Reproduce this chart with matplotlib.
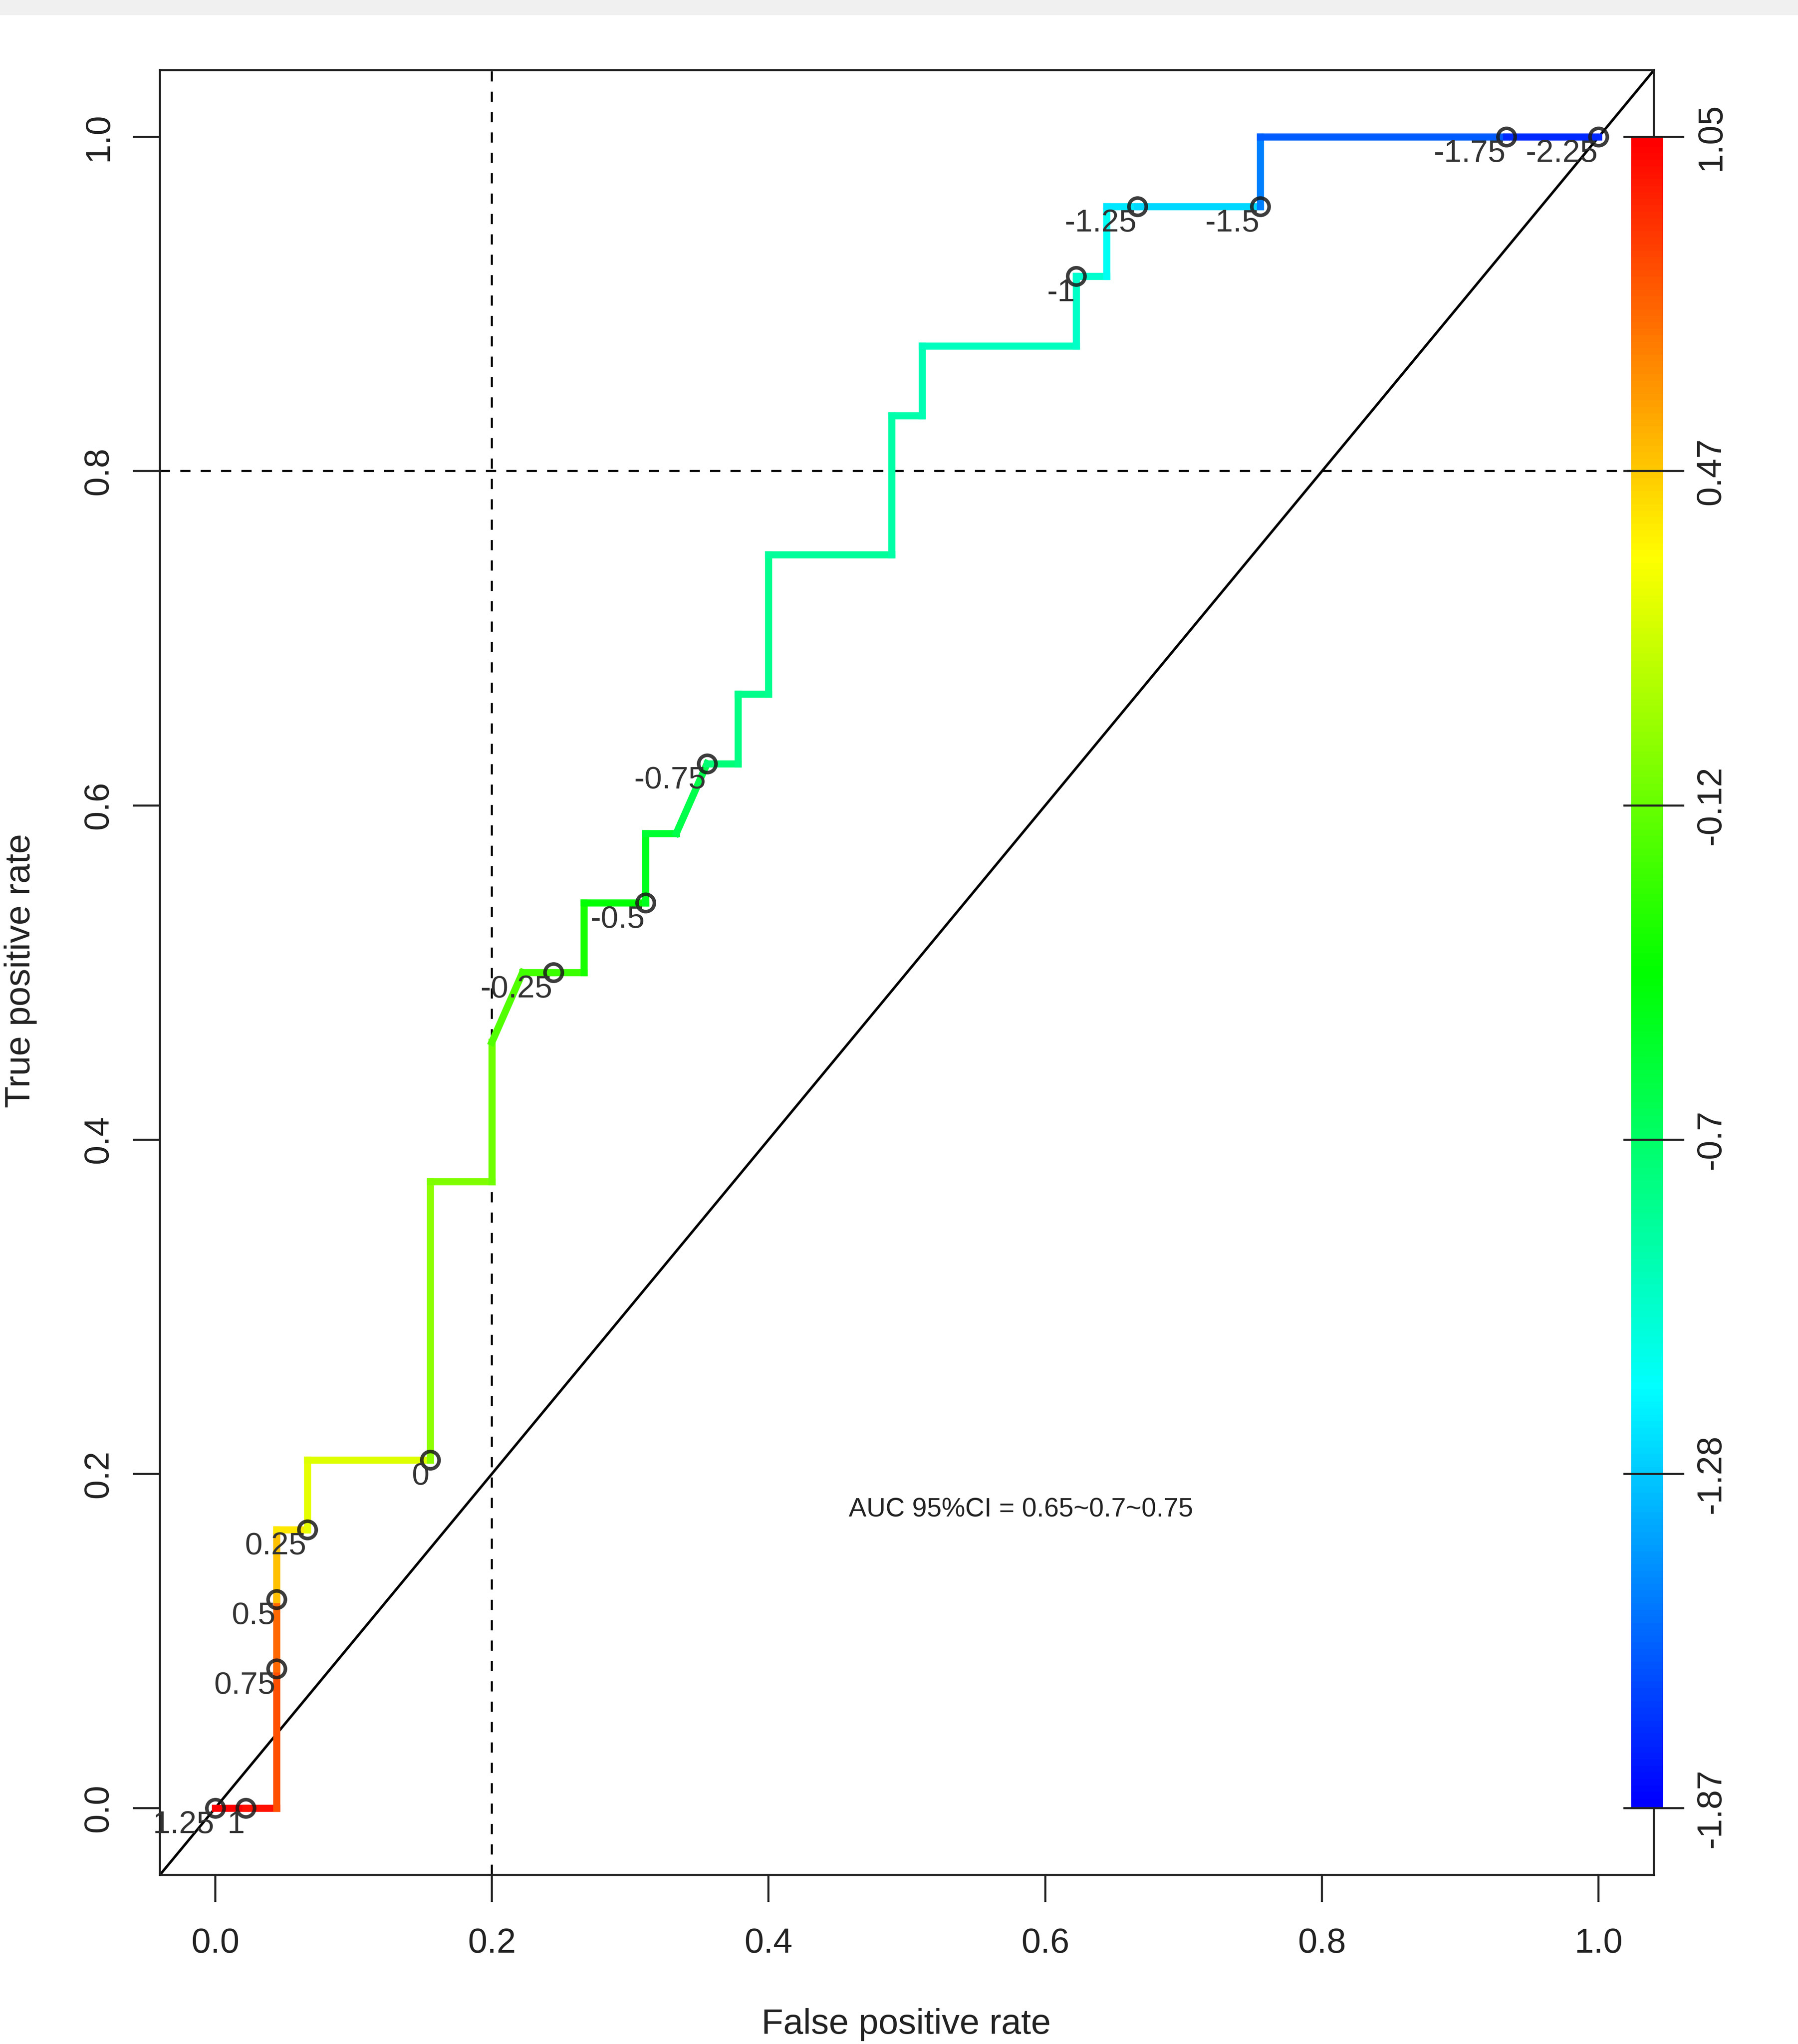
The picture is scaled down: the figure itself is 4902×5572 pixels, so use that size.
import colorsys
import numpy as np
import matplotlib
matplotlib.use("Agg")
import matplotlib.pyplot as plt
from matplotlib.collections import LineCollection
from matplotlib.colors import ListedColormap, Normalize
from matplotlib.patches import Rectangle

plt.rcParams['font.family'] = ['Liberation Sans', 'DejaVu Sans']

# ---------------- data ----------------
N_NEG = 45
N_POS = 24
fp_counts = [0, 1, 2, 2, 2, 2, 3, 3, 7, 7, 9, 9, 10, 11, 12, 12, 14, 14, 15, 16,
             17, 17, 18, 18, 22, 22, 23, 23, 28, 28, 29, 29, 30, 34, 34, 42, 45]
tp_counts = [0, 0, 0, 2, 3, 4, 4, 5, 5, 9, 9, 11, 12, 12, 12, 13, 13, 14, 14, 15,
             15, 16, 16, 18, 18, 20, 20, 21, 21, 22, 22, 23, 23, 23, 24, 24, 24]
cutoffs = [1.05, 1.0, 0.82, 0.75, 0.5, 0.38, 0.25, 0.22, 0.0, -0.05, -0.1, -0.18,
           -0.22, -0.25, -0.35, -0.42, -0.5, -0.55, -0.62, -0.75, -0.78, -0.8,
           -0.82, -0.85, -0.88, -0.9, -0.92, -0.95, -0.98, -1.0, -1.1, -1.2,
           -1.25, -1.5, -1.6, -1.75, -1.87]

label_text = ["1.25", "1", "0.75", "0.5", "0.25", "0", "-0.25", "-0.5", "-0.75",
              "-1", "-1.25", "-1.5", "-1.75", "-2.25"]
label_fp = [0, 1, 2, 2, 3, 7, 11, 14, 16, 28, 30, 34, 42, 45]
label_tp = [0, 0, 2, 3, 4, 5, 12, 13, 15, 22, 23, 23, 24, 24]

axis_ticks = [0.0, 0.2, 0.4, 0.6, 0.8, 1.0]
axis_ticklabels = ["0.0", "0.2", "0.4", "0.6", "0.8", "1.0"]
cbar_ticklabels = ["-1.87", "-1.28", "-0.7", "-0.12", "0.47", "1.05"]
cut_min, cut_max = -1.87, 1.05
auc_text = "AUC 95%CI = 0.65~0.7~0.75"

# ---------------- colours (R rainbow, red=high, blue=low) ----------------
cols = [colorsys.hsv_to_rgb(h, 1, 1) for h in np.linspace(4 / 6, 0, 256)]
cmap = ListedColormap(cols)
norm = Normalize(cut_min, cut_max)

fig = plt.figure(figsize=(49.02, 55.72), dpi=100)
fig.patches.append(Rectangle((0, 1 - 40 / 5572), 1, 40 / 5572, transform=fig.transFigure,
                             color='#f0f0f0', zorder=0))
ax = fig.add_axes([0.0889, 0.0827, 0.8310, 0.8830])
ax.set_xlim(-0.04, 1.04)
ax.set_ylim(-0.04, 1.04)

x = np.array(fp_counts) / N_NEG
y = np.array(tp_counts) / N_POS
segs = [[(x[i], y[i]), (x[i + 1], y[i + 1])] for i in range(len(x) - 1)]
seg_cols = [cmap(norm(c)) for c in cutoffs[:-1]]
lc = LineCollection(segs, colors=seg_cols, linewidths=14, capstyle='projecting',
                    joinstyle='miter', zorder=3)
ax.add_collection(lc)

# diagonal and reference lines
ax.plot([-0.04, 1.04], [-0.04, 1.04], color='black', lw=5, zorder=2)
ax.axvline(0.2, color='black', lw=4, linestyle=(0, (5, 5)), zorder=2)
ax.axhline(0.8, color='black', lw=4, linestyle=(0, (5, 5)), zorder=2)

# cutoff points & labels
lx = np.array(label_fp) / N_NEG
ly = np.array(label_tp) / N_POS
ax.plot(lx, ly, linestyle='none', marker='o', markersize=34, markerfacecolor='none',
        markeredgecolor='#1a1a1a', markeredgewidth=7, alpha=0.85, zorder=4)
for t, xx, yy in zip(label_text, lx, ly):
    ax.annotate(t, (xx, yy), xytext=(-2, -4), textcoords='offset points',
                ha='right', va='top', fontsize=62, color='#333333', zorder=5)

ax.text(0.5825, 0.1786, auc_text, ha='center', va='center', fontsize=52, color='#222222')

# colour key
grad = np.linspace(cut_min, cut_max, 256)[:, None]
im = ax.imshow(grad, cmap=cmap, norm=norm, extent=[1.0235, 1.0465, 0, 1], origin='lower',
               aspect='auto', interpolation='bilinear', zorder=6)
im.set_clip_on(False)
ax.set_xlim(-0.04, 1.04)
ax.set_ylim(-0.04, 1.04)

for s in ax.spines.values():
    s.set_linewidth(4)
    s.set_color('#222222')

ax.set_xticks(axis_ticks)
ax.set_xticklabels(axis_ticklabels)
ax.set_yticks(axis_ticks)
ax.set_yticklabels(axis_ticklabels, rotation=90, va='center')
ax.tick_params(axis='both', direction='out', length=53, width=4, labelsize=68,
               colors='#222222')
ax.tick_params(axis='x', pad=50)
ax.tick_params(axis='y', pad=35)

ax2 = ax.twinx()
ax2.set_ylim(-0.04, 1.04)
ax2.set_yticks(axis_ticks)
ax2.set_yticklabels(cbar_ticklabels, rotation=90, va='center')
ax2.tick_params(axis='y', direction='inout', length=120, width=4, labelsize=68,
                pad=20, colors='#222222')
for s in ax2.spines.values():
    s.set_visible(False)

fig.text(0.504, 0.0095, 'False positive rate', ha='center', va='center', fontsize=70,
         color='#222222')
fig.text(0.0115, 0.525, 'True positive rate', ha='center', va='center', rotation=90,
         fontsize=70, color='#222222')

fig.savefig('out.png', dpi=100)
